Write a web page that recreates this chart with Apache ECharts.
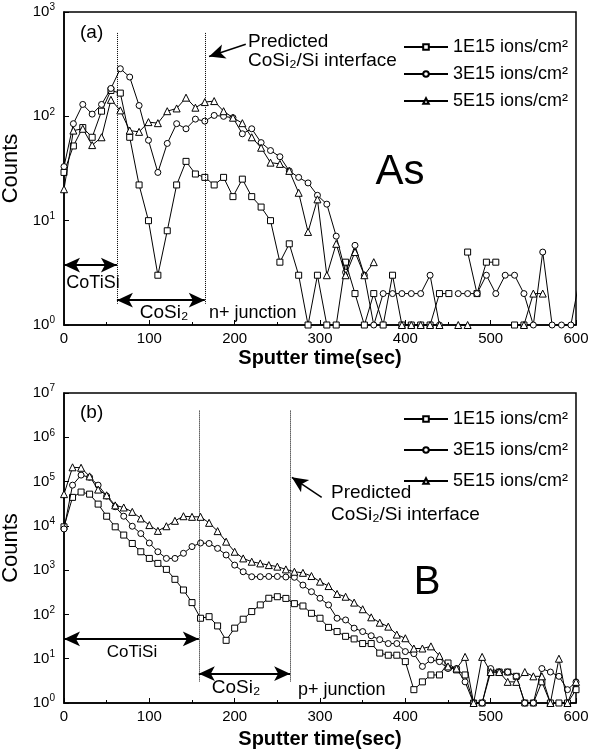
<!DOCTYPE html>
<html>
<head>
<meta charset="utf-8">
<script src="https://cdn.jsdelivr.net/npm/echarts@6.0.0/dist/echarts.min.js"></script>
<style>
html, body { margin: 0; padding: 0; background: #fff; }
#chart { width: 593px; height: 753px; }
</style>
</head>
<body>
<div id="chart"></div>
<script>
// series names
const names = ['1E15 ions/cm²', '3E15 ions/cm²', '5E15 ions/cm²'];

// panel (a): As, sputter time (sec)
const timeA = [0, 11, 22, 33, 44, 55, 66, 77, 88, 99, 110, 121, 132, 143, 154, 165, 176, 187, 198, 209,
  220, 231, 242, 253, 264, 275, 286, 297, 308, 319, 330, 341, 352, 363, 374, 385, 396, 407, 418, 429,
  440, 451, 462, 473, 484, 495, 506, 517, 528, 539, 550, 561, 572, 583, 594, 605];
const as1E15 = [29, 52, 78, 63, 112, 177, 167, 63, 22, 10, 3, 8, 22, 37, 28, 26, 22, 26, 17, 25,
  17, 13.5, 10, 4, 6, 3, 1, 3, 1, 1, 4, 2, 1, 2, 1, 3, 1, 1, 1, 1,
  2, 2, null, 5, 2, 4, 4, null, 1, 1, null, null, null, null, null, null];
const as3E15 = [33, 85, 130, 105, 130, 185, 286, 238, 127, 59, 29, 55, 85, 76, 94, 90, 102, 100, 97, 68,
  76, 56, 47, 41, 30, 26, 23, 17.5, 14.4, 7.1, 3.2, 5.8, 3, 1, 2, 2, 2, 2, 2, 3,
  1, null, 2, 2, 2, 3, 2, 3, 3, 2, 1, 5, 1, 1, 1, 3];
const as5E15 = [20, 73, 76, 53, 63, 144, 114, 73, 71, 88, 86, 112, 119, 151, 121, 137, 140, 112, 97, 86,
  63, 50, 36, 35, 30, 18.5, 7.8, 16, 3, 6, 3, 5, 3, 4, null, null, 1, 1, 1, 1,
  1, null, 1, 1, null, null, null, null, null, 1, 2, 2, null, null, null, null];

// panel (b): B
const timeB = [0, 10, 20, 30, 40, 50, 60, 70, 80, 90, 100, 110, 120, 130, 140, 150, 160, 170, 180, 190,
  200, 210, 220, 230, 240, 250, 260, 270, 280, 290, 300, 310, 320, 330, 340, 350, 360, 370, 380, 390,
  400, 410, 420, 430, 440, 450, 460, 470, 480, 490, 500, 510, 520, 530, 540, 550, 560, 570, 580, 590, 600];
const b1E15 = [9500, 44000, 58000, 52000, 31000, 16500, 9500, 6200, 4000, 2600, 1840, 1420, 1040, 620, 356, 185, 82, 89, 55, 26,
  49, 78, 116, 164, 232, 251, 230, 175, 155, 106, 82, 51, 41, 32, 28, 22, 22, 13.4, 12, 12,
  8.6, 2, 3, 4.3, 4.3, 8, 5.6, 4.3, 1, 1, 5, 5, 5, 4, 1, 1, 3, 1, 1, 1, 2];
const b3E15 = [8500, 83000, 140000, 125000, 83000, 47000, 27000, 16500, 9800, 6700, 4100, 2600, 1840, 1840, 2400, 3400, 4100, 4000, 3100, 2200,
  1300, 920, 710, 710, 720, 720, 700, 690, 460, 326, 232, 164, 82, 75, 49, 41, 33, 27, 22, 22,
  14.5, 13, 6.7, 9.4, 8.6, 6, 6, 3, 1, 1, 6, 5, 5, 4, 1, 1, 6, 5, 4, 2, 3];
const b5E15 = [52000, 210000, 205000, 131000, 66000, 49000, 29000, 26000, 20700, 14700, 10400, 7700, 9800, 13000, 16500, 16000, 16000, 11700, 7600, 4400,
  2600, 1840, 1550, 1420, 1300, 1200, 1040, 920, 870, 736, 550, 437, 290, 251, 185, 131, 86, 65, 53, 35,
  29, 17, 17, 19, 11.6, 6.7, 6, 11, 1, 11, 5, 5, 3, 3, 5, 4, 4, 1, 10, 1, 3];

const FONT = 'Liberation Sans, Arial, sans-serif';
const symbols = ['rect', 'circle', 'triangle'];
const symSizes = [6, 6, 7];

const chart = echarts.init(document.getElementById('chart'));

function pairs(times, vals) {
  return times.map((t, i) => [t, vals[i]]);
}

function makeSeries(idx, times, vals, panel, markLine) {
  const s = {
    name: names[idx],
    type: 'line',
    xAxisIndex: panel,
    yAxisIndex: panel,
    data: pairs(times, vals),
    symbol: symbols[idx],
    symbolSize: symSizes[idx],
    showAllSymbol: true,
    connectNulls: false,
    lineStyle: { color: '#000', width: 1 },
    itemStyle: { color: '#fff', borderColor: '#000', borderWidth: 1 },
    emphasis: { disabled: true },
    z: 3 + idx
  };
  if (markLine) s.markLine = markLine;
  return s;
}

function dotted(data) {
  return {
    silent: true, symbol: 'none', animation: false,
    label: { show: false },
    lineStyle: { color: '#000', width: 1, type: 'dotted' },
    data: data
  };
}
function arrows(data, both) {
  return {
    silent: true, animation: false,
    symbol: both ? ['arrow', 'arrow'] : ['none', 'arrow'],
    symbolSize: [11, 16],
    label: { show: false },
    lineStyle: { color: '#000', width: both ? 2 : 1.5, type: 'solid' },
    itemStyle: { color: '#000' },
    data: data
  };
}

function xAxis(gridIndex, nameGap) {
  return {
    type: 'value', gridIndex: gridIndex, min: 0, max: 600, interval: 100,
    name: 'Sputter time(sec)', nameLocation: 'middle', nameGap: nameGap,
    nameTextStyle: { fontSize: 20, fontWeight: 'bold', color: '#000', fontFamily: FONT },
    axisLine: { lineStyle: { color: '#000', width: 1.5 } },
    axisTick: { inside: true, length: 5, lineStyle: { color: '#000' } },
    minorTick: { show: true, splitNumber: 2, length: 3, lineStyle: { color: '#000' } },
    axisLabel: { fontSize: 15, color: '#000', margin: 6, fontFamily: FONT },
    splitLine: { show: false }
  };
}
function yAxis(gridIndex, max) {
  return {
    type: 'log', logBase: 10, gridIndex: gridIndex, min: 1, max: max,
    name: 'Counts', nameLocation: 'middle', nameGap: 35,
    nameTextStyle: { fontSize: 22, color: '#000', fontFamily: FONT },
    axisLine: { lineStyle: { color: '#000', width: 1.5 } },
    axisTick: { inside: true, length: 5, lineStyle: { color: '#000' } },
    axisLabel: {
      fontSize: 15, color: '#000', margin: 9, fontFamily: FONT,
      formatter: v => '10{s|' + Math.round(Math.log10(v)) + '}',
      rich: { s: { fontSize: 10, fontFamily: FONT, color: '#000', padding: [0, 0, 9, 0] } }
    },
    splitLine: { show: false }
  };
}

function legend(top, gap) {
  return {
    orient: 'vertical', left: 398, top: top, itemWidth: 44, itemHeight: 7, itemGap: gap,
    selectedMode: false,
    textStyle: { fontSize: 18, color: '#000', fontFamily: FONT },
    data: names
  };
}

function txt(x, y, text, size, align) {
  return {
    type: 'text', x: x, y: y, silent: true,
    style: { text: text, fontSize: size, fontFamily: FONT, fill: '#000', align: align || 'left', verticalAlign: 'middle' }
  };
}

const option = {
  animation: false,
  backgroundColor: '#fff',
  grid: [
    { left: 64, right: 17, top: 12, height: 313, show: true, borderColor: '#000', borderWidth: 1.5, outerBoundsMode: 'none', containLabel: false },
    { left: 64, right: 17, top: 393, height: 310, show: true, borderColor: '#000', borderWidth: 1.5, outerBoundsMode: 'none', containLabel: false }
  ],
  xAxis: [xAxis(0, 23), xAxis(1, 26)],
  yAxis: [yAxis(0, 1000), yAxis(1, 1e7)],
  legend: [legend(33, 9), legend(405, 13)],
  series: [
    makeSeries(0, timeA, as1E15, 0, dotted([
      [{ coord: [62, 630] }, { coord: [62, 1.6] }],
      [{ coord: [165, 630] }, { coord: [165, 1.6] }]
    ])),
    makeSeries(1, timeA, as3E15, 0, arrows([
      [{ coord: [0, 3.75] }, { coord: [62, 3.75] }],
      [{ coord: [62, 1.73] }, { coord: [165, 1.73] }]
    ], true)),
    makeSeries(2, timeA, as5E15, 0, arrows([
      [{ coord: [213, 490] }, { coord: [170, 375] }]
    ], false)),
    makeSeries(0, timeB, b1E15, 1, dotted([
      [{ coord: [158, 4e6] }, { coord: [158, 3.06] }],
      [{ coord: [265, 4e6] }, { coord: [265, 3.06] }]
    ])),
    makeSeries(1, timeB, b3E15, 1, arrows([
      [{ coord: [0, 28] }, { coord: [158, 28] }],
      [{ coord: [158, 4.6] }, { coord: [265, 4.6] }]
    ], true)),
    makeSeries(2, timeB, b5E15, 1, arrows([
      [{ coord: [302, 44000] }, { coord: [267, 125000] }]
    ], false))
  ],
  graphic: [
    txt(80, 33, '(a)', 19),
    txt(248, 42, 'Predicted', 19),
    txt(248, 61, 'CoSi₂/Si interface', 19),
    txt(400, 172, 'As', 42, 'center'),
    txt(93, 283, 'CoTiSi', 18, 'center'),
    txt(164, 313, 'CoSi₂', 19, 'center'),
    txt(209, 313, 'n+ junction', 18),
    txt(80, 413, '(b)', 19),
    txt(331, 493, 'Predicted', 19),
    txt(331, 515, 'CoSi₂/Si interface', 19),
    txt(427, 583, 'B', 40, 'center'),
    txt(132, 652, 'CoTiSi', 17, 'center'),
    txt(236, 688, 'CoSi₂', 19, 'center'),
    txt(298, 690, 'p+ junction', 18)
  ]
};

chart.setOption(option);
</script>
</body>
</html>
